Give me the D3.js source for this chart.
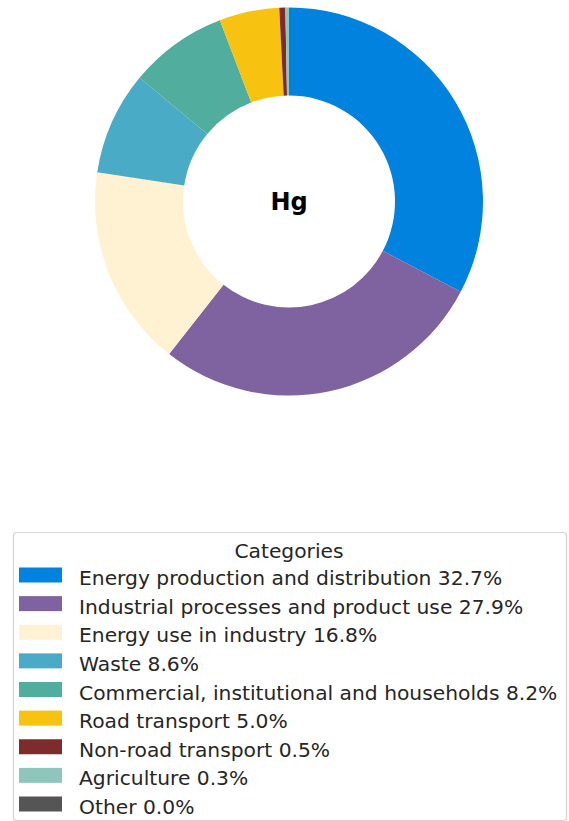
<!DOCTYPE html>
<html>
<head>
<meta charset="utf-8">
<script src="https://cdn.jsdelivr.net/npm/d3@7"></script>
<style>
  html, body { margin: 0; padding: 0; background: #fff; }
  svg { display: block; }
</style>
</head>
<body>
<svg id="chart" width="569" height="821"></svg>
<script>
// Mercury (Hg) emission shares by source category
const categories = [
  "Energy production and distribution",
  "Industrial processes and product use",
  "Energy use in industry",
  "Waste",
  "Commercial, institutional and households",
  "Road transport",
  "Non-road transport",
  "Agriculture",
  "Other"
];
const shares = [32.7, 27.9, 16.8, 8.6, 8.2, 5.0, 0.5, 0.3, 0.0];
const colors = [
  "#0082de", "#7f63a1", "#fef2d2", "#4aabc7", "#51ae9f",
  "#f8c310", "#7d2b2b", "#8fc6bb", "#555555"
];
const centerLabel = "Hg";
const legendTitle = "Categories";

const svg = d3.select("#chart");

// Donut
const cx = 289, cy = 201.5, rOuter = 194, rInner = 106;
const color = d3.scaleOrdinal().domain(categories).range(colors);
const data = categories.map((c, i) => ({ name: c, value: shares[i] }));

const pie = d3.pie().value(d => d.value).sort(null)
  .startAngle(0).endAngle(2 * Math.PI);
const arc = d3.arc().innerRadius(rInner).outerRadius(rOuter);

const g = svg.append("g").attr("transform", `translate(${cx},${cy})`);
g.selectAll("path")
  .data(pie(data))
  .join("path")
  .attr("d", arc)
  .attr("fill", d => color(d.data.name));

g.append("text")
  .attr("text-anchor", "middle")
  .attr("dominant-baseline", "central")
  .attr("y", 0)
  .style("font-family", "DejaVu Sans, sans-serif")
  .style("font-weight", "bold")
  .style("font-size", "24px")
  .attr("fill", "#000")
  .text(centerLabel);

// Legend
const lg = { x: 13.5, y: 532.5, w: 553, h: 288 };
const fontSize = "20.25px";
const legend = svg.append("g");
legend.append("rect")
  .attr("x", lg.x).attr("y", lg.y)
  .attr("width", lg.w).attr("height", lg.h)
  .attr("rx", 3).attr("ry", 3)
  .attr("fill", "#fff")
  .attr("stroke", "#d4d4d4")
  .attr("stroke-width", 1.2);

legend.append("text")
  .attr("x", 289).attr("y", 557.5)
  .attr("text-anchor", "middle")
  .style("font-family", "DejaVu Sans, sans-serif")
  .style("font-size", fontSize)
  .attr("fill", "#262626")
  .text(legendTitle);

const rowY = d3.scaleLinear().domain([0, categories.length - 1]).range([575, 804]);
const rows = legend.selectAll("g.row")
  .data(data)
  .join("g")
  .attr("class", "row")
  .attr("transform", (d, i) => `translate(0,${rowY(i)})`);

rows.append("rect")
  .attr("x", 19).attr("y", -7.5)
  .attr("width", 43).attr("height", 15)
  .attr("fill", d => color(d.name));

rows.append("text")
  .attr("x", 79).attr("y", 10)
  .style("font-family", "DejaVu Sans, sans-serif")
  .style("font-size", fontSize)
  .attr("fill", "#262626")
  .text(d => `${d.name} ${d.value.toFixed(1)}%`);
</script>
</body>
</html>
